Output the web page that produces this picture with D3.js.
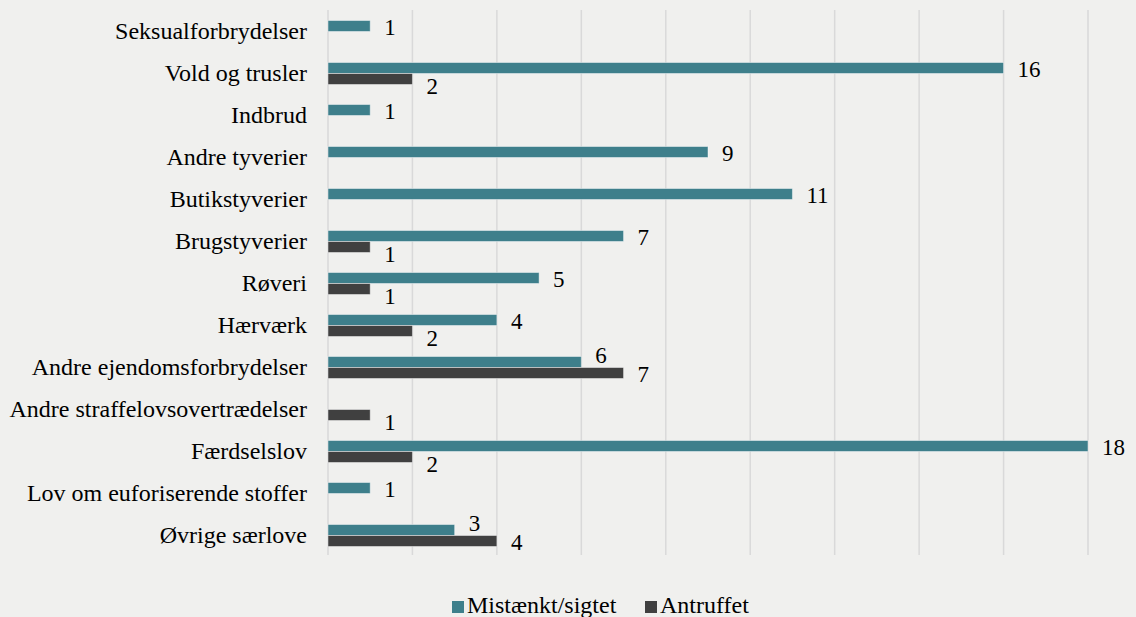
<!DOCTYPE html>
<html>
<head>
<meta charset="utf-8">
<script src="https://cdn.jsdelivr.net/npm/d3@7"></script>
<style>
  body { margin: 0; background: #f0f0ee; }
  svg text { font-family: 'Liberation Serif', Tinos, 'Times New Roman', Times, 'DejaVu Serif', serif; }
</style>
</head>
<body>
<div class="barChart"></div>
<script>
const WIDTH = 1136;
const HEIGHT = 617;
const FONT = "'Liberation Serif', Tinos, 'Times New Roman', Times, 'DejaVu Serif', serif";

// data
var categories = ['Seksualforbrydelser', 'Vold og trusler', 'Indbrud', 'Andre tyverier', 'Butikstyverier',
    'Brugstyverier', 'Røveri', 'Hærværk', 'Andre ejendomsforbrydelser', 'Andre straffelovsovertrædelser',
    'Færdselslov', 'Lov om euforiserende stoffer', 'Øvrige særlove'];
var mistaenkt = [1, 16, 1, 9, 11, 7, 5, 4, 6, null, 18, 1, 3];
var antruffet = [null, 2, null, null, null, 1, 1, 2, 7, 1, 2, null, 4];
var seriesNames = ['Mistænkt/sigtet', 'Antruffet'];
var seriesColors = ['#3e7f8b', '#404040'];
var xTicks = [0, 2, 4, 6, 8, 10, 12, 14, 16, 18];

var xScale = d3.scaleLinear().domain([0, 18]).range([328, 1088]);
var yScale = d3.scaleBand().domain(categories).range([10.5, 556.5]).padding(0);
var ySub = d3.scaleBand().domain(seriesNames).range([0, yScale.bandwidth()]).paddingInner(0).paddingOuter(0.91);

var svg = d3.select('.barChart').append('svg')
    .attr('width', WIDTH)
    .attr('height', HEIGHT)
    .style('display', 'block');

function drawGrid() {
    svg.append('g').selectAll('line').data(xTicks).enter().append('line')
        .attr('x1', function (d) { return xScale(d); })
        .attr('x2', function (d) { return xScale(d); })
        .attr('y1', 10)
        .attr('y2', 555)
        .attr('stroke', '#d9d9d9')
        .attr('stroke-width', 1.5);
}

function drawCategoryLabels() {
    svg.append('g').selectAll('text').data(categories).enter().append('text')
        .attr('x', 307)
        .attr('y', function (d) { return yScale(d) + yScale.bandwidth() / 2 + 7.5; })
        .attr('text-anchor', 'end')
        .attr('font-family', FONT)
        .attr('font-size', 24)
        .attr('fill', '#000')
        .text(function (d) { return d; });
}

function buildRows() {
    var rows = [];
    categories.forEach(function (c, i) {
        var close = mistaenkt[i] != null && antruffet[i] != null && Math.abs(mistaenkt[i] - antruffet[i]) <= 1;
        if (mistaenkt[i] != null) rows.push({cat: c, s: 0, v: mistaenkt[i], dy: close ? 1 : 9});
        if (antruffet[i] != null) rows.push({cat: c, s: 1, v: antruffet[i], dy: close ? 9.5 : 15.5});
    });
    return rows;
}

function drawBars(rows) {
    var g = svg.append('g');
    g.selectAll('rect').data(rows).enter().append('rect')
        .attr('x', xScale(0))
        .attr('y', function (d) { return yScale(d.cat) + ySub(seriesNames[d.s]); })
        .attr('width', function (d) { return xScale(d.v) - xScale(0); })
        .attr('height', ySub.bandwidth())
        .attr('fill', function (d) { return seriesColors[d.s]; })
        .attr('stroke', 'rgba(255,255,255,0.45)')
        .attr('stroke-width', 1);

    g.selectAll('text').data(rows).enter().append('text')
        .attr('x', function (d) { return xScale(d.v) + 14; })
        .attr('y', function (d) { return yScale(d.cat) + ySub(seriesNames[d.s]) + ySub.bandwidth() / 2 + d.dy; })
        .attr('font-family', FONT)
        .attr('font-size', 23)
        .attr('fill', '#000')
        .text(function (d) { return d.v; });
}

function drawLegend() {
    var items = [{x: 452, tx: 467}, {x: 645, tx: 660}];
    var g = svg.append('g');
    seriesNames.forEach(function (name, i) {
        g.append('rect')
            .attr('x', items[i].x).attr('y', 601)
            .attr('width', 12).attr('height', 12)
            .attr('fill', seriesColors[i]);
        g.append('text')
            .attr('x', items[i].tx).attr('y', 613)
            .attr('font-family', FONT)
            .attr('font-size', 24)
            .attr('fill', '#000')
            .text(name);
    });
}

drawGrid();
drawCategoryLabels();
drawBars(buildRows());
drawLegend();
</script>
</body>
</html>
